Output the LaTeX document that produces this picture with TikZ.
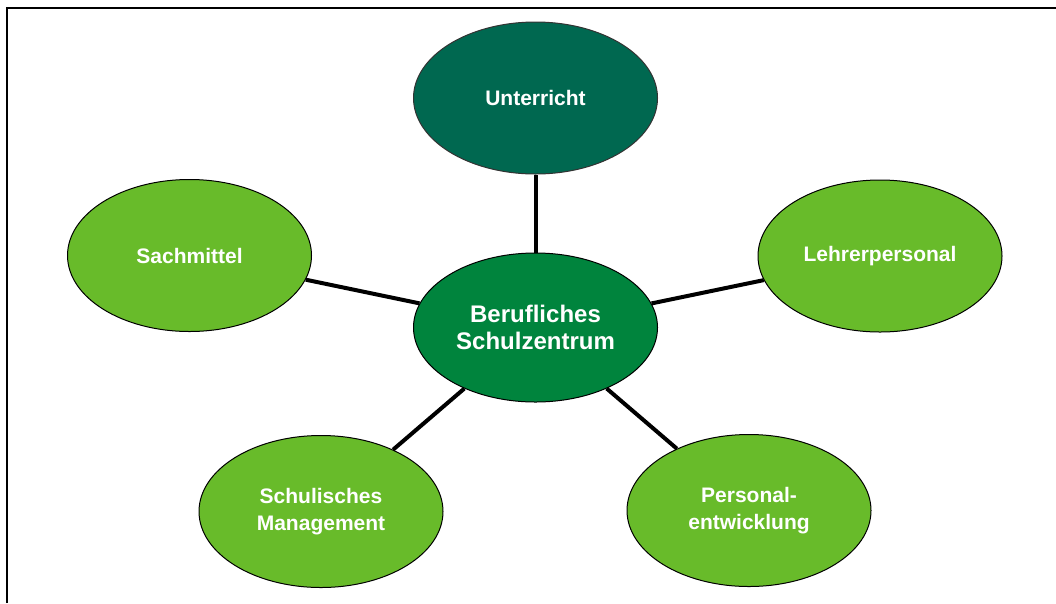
\documentclass[tikz,border=0pt]{standalone}
\usepackage{fontspec}
\setmainfont{Liberation Sans}
\usetikzlibrary{shapes.geometric}
\definecolor{darkgreen}{RGB}{0,104,80}
\definecolor{midgreen}{RGB}{0,132,61}
\definecolor{lightgreen}{RGB}{104,187,42}
\tikzset{
  bubble/.style={ellipse, draw=black, line width=1pt, minimum width=244pt, minimum height=152pt,
    inner sep=0pt, align=center, text=white, font=\fontsize{21}{27}\selectfont\bfseries},
  outer/.style={bubble, fill=lightgreen},
  hub/.style={bubble, fill=midgreen, minimum height=149pt, font=\fontsize{24}{27}\selectfont\bfseries},
  top/.style={bubble, fill=darkgreen, draw=black!80},
  link/.style={line width=4pt, black},
  frame/.style={line width=2pt, black}
}
\begin{document}
\begin{tikzpicture}[x=1pt,y=-1pt]
\useasboundingbox (0,0) rectangle (1056,603);
\coordinate (fbl) at (7,603);
\coordinate (ftl) at (7,8);
\coordinate (ftr) at (1056,8);
\draw[frame] (fbl) -- (ftl) -- (ftr);
\node[hub] (c) at (535.5,327.5) {Berufliches\\Schulzentrum};
\node[top] (u) at (535.5,98) {Unterricht};
\node[outer] (s) at (189.5,255.5) {Sachmittel};
\node[outer] (l) at (880,256) {Lehrerpersonal};
\node[outer] (m) at (321,511.5) {Schulisches\\Management};
\node[outer] (p) at (749,510.5) {Personal-\\entwicklung};
\draw[link] (c) -- (u);
\draw[link] (c) -- (s);
\draw[link] (c) -- (l);
\draw[link] (c) -- (m);
\draw[link] (c) -- (p);
\end{tikzpicture}
\end{document}
